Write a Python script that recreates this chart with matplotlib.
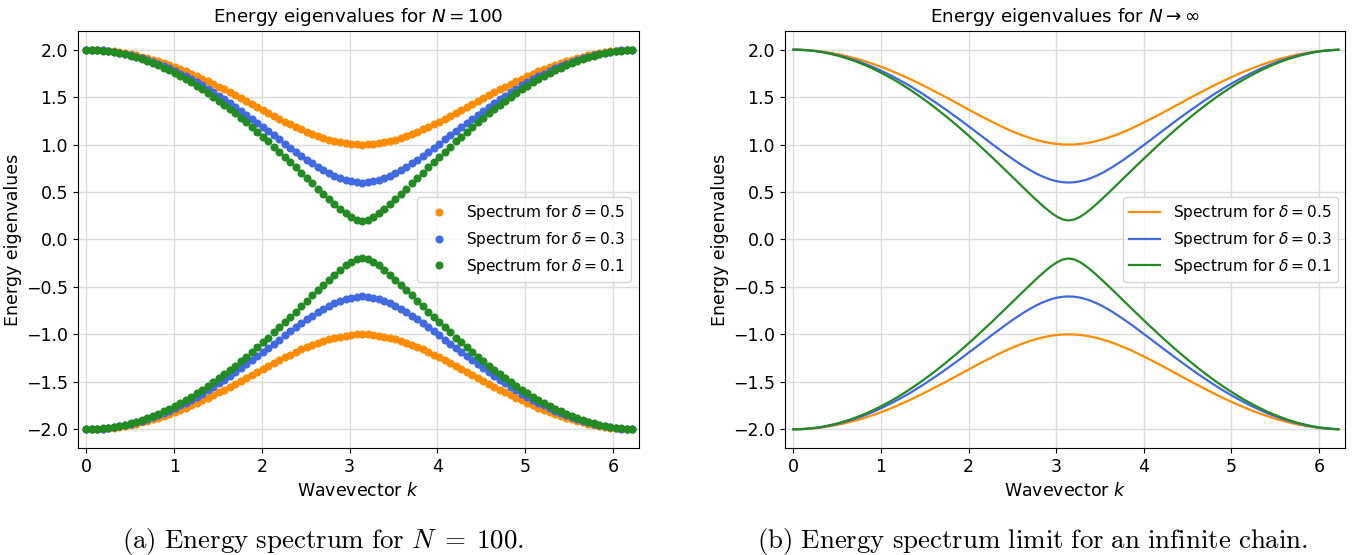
import numpy as np
import matplotlib
matplotlib.use('Agg')
import matplotlib.pyplot as plt

# wavevectors k_n = 2*pi*n/100, n = 0..99 (evenly spaced grid of the chain)
k = np.linspace(0, 2 * np.pi, 100, endpoint=False)

# upper band E(k) for n = 0..50; the band is symmetric about k = pi
band_05 = [2.000, 1.999, 1.997, 1.993, 1.988, 1.982, 1.973, 1.964, 1.953, 1.941,
           1.927, 1.912, 1.896, 1.878, 1.859, 1.839, 1.818, 1.795, 1.772, 1.747,
           1.721, 1.695, 1.668, 1.640, 1.611, 1.581, 1.551, 1.521, 1.490, 1.458,
           1.427, 1.396, 1.364, 1.333, 1.302, 1.272, 1.243, 1.214, 1.186, 1.159,
           1.134, 1.111, 1.089, 1.069, 1.051, 1.036, 1.023, 1.013, 1.006, 1.001,
           1.000]
band_03 = [2.000, 1.999, 1.996, 1.992, 1.986, 1.978, 1.968, 1.956, 1.943, 1.928,
           1.911, 1.893, 1.873, 1.851, 1.828, 1.803, 1.776, 1.748, 1.719, 1.688,
           1.656, 1.623, 1.588, 1.552, 1.515, 1.476, 1.437, 1.397, 1.356, 1.314,
           1.272, 1.229, 1.185, 1.142, 1.098, 1.054, 1.010, 0.967, 0.924, 0.882,
           0.841, 0.802, 0.765, 0.730, 0.698, 0.670, 0.646, 0.626, 0.612, 0.603,
           0.600]
band_01 = [2.000, 1.999, 1.996, 1.991, 1.984, 1.976, 1.965, 1.952, 1.938, 1.921,
           1.903, 1.883, 1.861, 1.837, 1.812, 1.784, 1.755, 1.724, 1.692, 1.658,
           1.622, 1.585, 1.546, 1.506, 1.464, 1.421, 1.377, 1.331, 1.284, 1.236,
           1.187, 1.136, 1.085, 1.033, 0.979, 0.925, 0.871, 0.815, 0.759, 0.703,
           0.647, 0.590, 0.534, 0.478, 0.423, 0.370, 0.320, 0.274, 0.236, 0.210,
           0.200]

deltas = ['0.5', '0.3', '0.1']
bands = [band_05, band_03, band_01]
colors = ['darkorange', 'royalblue', 'forestgreen']


def full_band(half):
    # mirror n = 1..49 onto n = 51..99
    half = np.array(half)
    return np.concatenate([half, half[-2:0:-1]])


fig = plt.figure(figsize=(13.62, 5.55), dpi=100)
ax1 = fig.add_axes([0.0570, 0.1923, 0.4123, 0.7524])
ax2 = fig.add_axes([0.5761, 0.1923, 0.4117, 0.7524])

fs = 12.5
for d, b, c in zip(deltas, bands, colors):
    e = full_band(b)
    ax1.plot(k, e, 'o', color=c, markersize=4.8, label=r'Spectrum for $\delta = %s$' % d)
    ax1.plot(k, -e, 'o', color=c, markersize=4.8)
    ax2.plot(k, e, '-', color=c, lw=1.6, label=r'Spectrum for $\delta = %s$' % d)
    ax2.plot(k, -e, '-', color=c, lw=1.6)

titles = [r'Energy eigenvalues for $N = 100$', r'Energy eigenvalues for $N \to \infty$']
for ax, t in zip([ax1, ax2], titles):
    ax.set_xlim(-0.1, 6.3)
    ax.set_ylim(-2.2, 2.2)
    ax.set_xticks([0, 1, 2, 3, 4, 5, 6])
    ax.set_yticks([-2.0, -1.5, -1.0, -0.5, 0.0, 0.5, 1.0, 1.5, 2.0])
    ax.grid(True, color='#dcdcdc', lw=1.0)
    ax.set_axisbelow(True)
    ax.tick_params(labelsize=fs)
    ax.set_title(t, fontsize=fs + 0.7)
    ax.set_xlabel(r'Wavevector $k$', fontsize=fs)
    ax.set_ylabel('Energy eigenvalues', fontsize=fs, labelpad=3)
    ax.legend(loc='center right', fontsize=fs - 1.4)

# sub-figure captions in Computer Modern
fig.text(0.237, 0.012, r'$\mathrm{(a)\ Energy\ spectrum\ for\ }N\;=\;100\mathrm{.}$',
         ha='center', va='baseline', fontsize=19.4, math_fontfamily='cm')
fig.text(0.758, 0.012, r'$\mathrm{(b)\ Energy\ spectrum\ limit\ for\ an\ infinite\ chain.}$',
         ha='center', va='baseline', fontsize=19.4, math_fontfamily='cm')

plt.savefig('out.png', dpi=100)
